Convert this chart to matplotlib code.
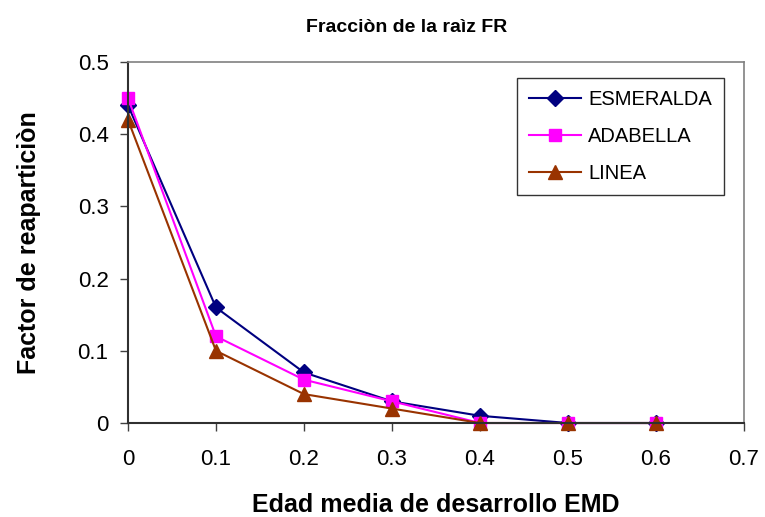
import matplotlib
matplotlib.use('Agg')
import matplotlib.pyplot as plt

plt.rcParams['font.family'] = ['Liberation Sans', 'DejaVu Sans']

# edad media de desarrollo
emd = [0, 0.1, 0.2, 0.3, 0.4, 0.5, 0.6]
esmeralda = [0.44, 0.16, 0.07, 0.03, 0.01, 0, 0]
adabella = [0.45, 0.12, 0.06, 0.03, 0, 0, 0]
linea = [0.42, 0.10, 0.04, 0.02, 0, 0, 0]

xticks = [0, 0.1, 0.2, 0.3, 0.4, 0.5, 0.6, 0.7]
yticks = [0, 0.1, 0.2, 0.3, 0.4, 0.5]

fig = plt.figure(figsize=(7.65, 5.17), dpi=100)
ax = fig.add_axes([0.1673, 0.1818, 0.8052, 0.6983])

ax.plot(emd, esmeralda, color='#000080', marker='D', markersize=8, lw=1.5,
        label='ESMERALDA', clip_on=False)
ax.plot(emd, adabella, color='#FF00FF', marker='s', markersize=8.5, lw=1.5,
        label='ADABELLA', clip_on=False)
ax.plot(emd, linea, color='#993300', marker='^', markersize=10, lw=1.5,
        label='LINEA', clip_on=False)

ax.set_xlim(0, 0.7)
ax.set_ylim(0, 0.5)
ax.set_xticks(xticks)
ax.set_xticklabels([('%g' % t) for t in xticks])
ax.set_yticks(yticks)
ax.set_yticklabels([('%g' % t) for t in yticks])
ax.tick_params(labelsize=16, direction='out', length=6, width=1, color='#404040')
ax.tick_params(axis='x', pad=13)
ax.tick_params(axis='y', pad=8)
for sp in ['top', 'right']:
    ax.spines[sp].set_color('#808080')
    ax.spines[sp].set_linewidth(1.2)
for sp in ['left', 'bottom']:
    ax.spines[sp].set_color('#303030')
    ax.spines[sp].set_linewidth(1.5)

fig.text(407 / 765, 1 - 28 / 517, 'Fracciòn de la raìz FR', fontsize=14,
         fontweight='bold', ha='center', va='center')
ax.set_xlabel('Edad media de desarrollo EMD', fontsize=18, fontweight='bold', labelpad=16)
ax.set_ylabel('Factor de reaparticiòn', fontsize=18, fontweight='bold', labelpad=26)

leg = ax.legend(loc='upper right', bbox_to_anchor=(724 / 765, 1 - 78 / 517),
                bbox_transform=fig.transFigure, borderaxespad=0, fontsize=14.5,
                frameon=True, fancybox=False, edgecolor='black', handlelength=2.6,
                handletextpad=0.35, labelspacing=0.9, borderpad=0.6)
leg.get_frame().set_linewidth(1)

fig.savefig('out.png', dpi=100)
